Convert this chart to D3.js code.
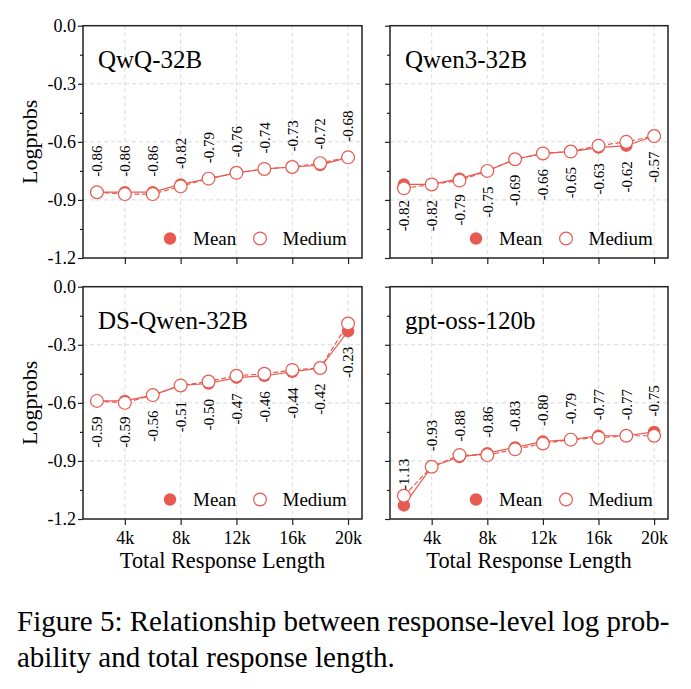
<!DOCTYPE html>
<html>
<head>
<meta charset="utf-8">
<script src="https://cdn.jsdelivr.net/npm/d3@7"></script>
<style>
body { margin: 0; background: #fff; }
svg { display: block; }
text { font-family: "Liberation Serif", "Times New Roman", serif; fill: #000; }
</style>
</head>
<body>
<svg id="chart" width="691" height="689"></svg>
<script>
// x positions (total response length, tokens)
const lengths = [2000, 4000, 6000, 8000, 10000, 12000, 14000, 16000, 18000, 20000];
const xTicks = [4000, 8000, 12000, 16000, 20000];
const xTickLabels = ["4k", "8k", "12k", "16k", "20k"];
const yTicks = [0, -0.3, -0.6, -0.9, -1.2];
const yTickLabels = ["0.0", "-0.3", "-0.6", "-0.9", "-1.2"];
const yMinorTicks = [-0.15, -0.45, -0.75, -1.05];

const models = ["QwQ-32B", "Qwen3-32B", "DS-Qwen-32B", "gpt-oss-120b"];

const qwqMean = [-0.86, -0.86, -0.86, -0.82, -0.79, -0.76, -0.74, -0.73, -0.72, -0.68];
const qwqMedium = [-0.86, -0.87, -0.87, -0.83, -0.79, -0.76, -0.74, -0.73, -0.71, -0.68];
const qwen3Mean = [-0.82, -0.82, -0.79, -0.75, -0.69, -0.66, -0.65, -0.63, -0.62, -0.57];
const qwen3Medium = [-0.84, -0.82, -0.80, -0.75, -0.69, -0.66, -0.65, -0.62, -0.60, -0.57];
const dsQwenMean = [-0.59, -0.59, -0.56, -0.51, -0.50, -0.47, -0.46, -0.44, -0.42, -0.23];
const dsQwenMedium = [-0.59, -0.60, -0.56, -0.51, -0.49, -0.46, -0.45, -0.43, -0.42, -0.19];
const gptMean = [-1.13, -0.93, -0.88, -0.86, -0.83, -0.80, -0.79, -0.77, -0.77, -0.75];
const gptMedium = [-1.08, -0.93, -0.87, -0.87, -0.84, -0.81, -0.79, -0.78, -0.77, -0.77];

const meanSeries = [qwqMean, qwen3Mean, dsQwenMean, gptMean];
const mediumSeries = [qwqMedium, qwen3Medium, dsQwenMedium, gptMedium];
const labelSide = ["above", "below", "below", "above"];

const legendLabels = ["Mean", "Medium"];
const captionLines = [
	"Figure 5: Relationship between response-level log prob-",
	"ability and total response length."
];

const red = "#e85a50";
const svg = d3.select("#chart");

// panel boxes
const panels = [
	{ x0: 83, x1: 362, y0: 25.7, y1: 258, left: true, bottom: false },
	{ x0: 390, x1: 668, y0: 25.7, y1: 258, left: false, bottom: false },
	{ x0: 83, x1: 362, y0: 286.7, y1: 519, left: true, bottom: true },
	{ x0: 390, x1: 668, y0: 286.7, y1: 519, left: false, bottom: true }
];

function drawPanel(i) {
	const p = panels[i];
	const x = d3.scaleLinear().domain([1000, 21000]).range([p.x0, p.x1]);
	const y = d3.scaleLinear().domain([-1.2, 0]).range([p.y1, p.y0]);
	const g = svg.append("g");

	// grid
	g.selectAll(".vgrid").data(xTicks).enter().append("line")
		.attr("x1", d => x(d)).attr("x2", d => x(d))
		.attr("y1", p.y0).attr("y2", p.y1)
		.attr("stroke", "#cfcfcf").attr("stroke-width", 0.8).attr("stroke-dasharray", "4,3");
	g.selectAll(".hgrid").data(yTicks.slice(1, 4)).enter().append("line")
		.attr("x1", p.x0).attr("x2", p.x1)
		.attr("y1", d => y(d)).attr("y2", d => y(d))
		.attr("stroke", "#cfcfcf").attr("stroke-width", 0.8).attr("stroke-dasharray", "4,3");

	// axes
	const xAxis = d3.axisBottom(x).tickValues(xTicks).tickSize(6).tickPadding(6)
		.tickFormat((d, k) => p.bottom ? xTickLabels[k] : "");
	const gx = g.append("g").attr("transform", `translate(0,${p.y1})`).call(xAxis);
	const yAxis = d3.axisLeft(y).tickValues(yTicks).tickSize(5).tickPadding(2)
		.tickFormat((d, k) => p.left ? yTickLabels[k] : "");
	const gy = g.append("g").attr("transform", `translate(${p.x0},0)`).call(yAxis);
	const yMinor = d3.axisLeft(y).tickValues(yMinorTicks).tickSize(3).tickFormat("");
	const gm = g.append("g").attr("transform", `translate(${p.x0},0)`).call(yMinor);
	[gx, gy, gm].forEach(a => {
		a.select(".domain").remove();
		a.selectAll("line").attr("stroke", "#222").attr("stroke-width", 1.2);
		a.selectAll("text").attr("font-size", 18);
	});

	// lines
	const line = d3.line().x((d, k) => x(lengths[k])).y(d => y(d));
	g.append("path").datum(meanSeries[i]).attr("d", line)
		.attr("fill", "none").attr("stroke", red).attr("stroke-width", 1.2);
	g.selectAll(".mean").data(meanSeries[i]).enter().append("circle")
		.attr("cx", (d, k) => x(lengths[k])).attr("cy", d => y(d)).attr("r", 6.2)
		.attr("fill", red);
	g.append("path").datum(mediumSeries[i]).attr("d", line)
		.attr("fill", "none").attr("stroke", red).attr("stroke-width", 1.2)
		.attr("stroke-dasharray", "5,2.5");
	g.selectAll(".medium").data(mediumSeries[i]).enter().append("circle")
		.attr("cx", (d, k) => x(lengths[k])).attr("cy", d => y(d)).attr("r", 6.4)
		.attr("fill", "#fff").attr("stroke", red).attr("stroke-width", 1.2);

	// value labels
	const above = labelSide[i] === "above";
	g.selectAll(".val").data(meanSeries[i]).enter().append("text")
		.attr("transform", (d, k) => `translate(${x(lengths[k])},${y(d) + (above ? -15.5 : 15.5)}) rotate(-90)`)
		.attr("dy", "0.35em")
		.attr("text-anchor", above ? "start" : "end")
		.attr("font-size", 15)
		.text(d => d.toFixed(2));

	// frame
	g.append("rect").attr("x", p.x0).attr("y", p.y0)
		.attr("width", p.x1 - p.x0).attr("height", p.y1 - p.y0)
		.attr("fill", "none").attr("stroke", "#222").attr("stroke-width", 1.5);

	// title
	g.append("text").attr("x", p.x0 + 15).attr("y", p.y0 + 42)
		.attr("font-size", 25).text(models[i]);

	// legend
	const ly = p.y1 - 19.5;
	g.append("circle").attr("cx", p.x1 - 192).attr("cy", ly).attr("r", 6.2).attr("fill", red);
	g.append("text").attr("x", p.x1 - 169).attr("y", p.y1 - 13).attr("font-size", 19).text(legendLabels[0]);
	g.append("circle").attr("cx", p.x1 - 102).attr("cy", ly).attr("r", 6.4)
		.attr("fill", "#fff").attr("stroke", red).attr("stroke-width", 1.2);
	g.append("text").attr("x", p.x1 - 79.5).attr("y", p.y1 - 13).attr("font-size", 19).text(legendLabels[1]);

	if (p.left) {
		g.append("text")
			.attr("transform", `translate(37,${(p.y0 + p.y1) / 2}) rotate(-90)`)
			.attr("text-anchor", "middle").attr("font-size", 22).text("Logprobs");
	}
	if (p.bottom) {
		g.append("text").attr("x", (p.x0 + p.x1) / 2).attr("y", 568)
			.attr("text-anchor", "middle").attr("font-size", 22.3).text("Total Response Length");
	}
}

for (let i = 0; i < panels.length; i++) {
	drawPanel(i);
}

// caption
svg.selectAll(".caption").data(captionLines).enter().append("text")
	.attr("x", 17).attr("y", (d, k) => 631 + k * 36)
	.attr("font-size", 29).text(d => d);
</script>
</body>
</html>
